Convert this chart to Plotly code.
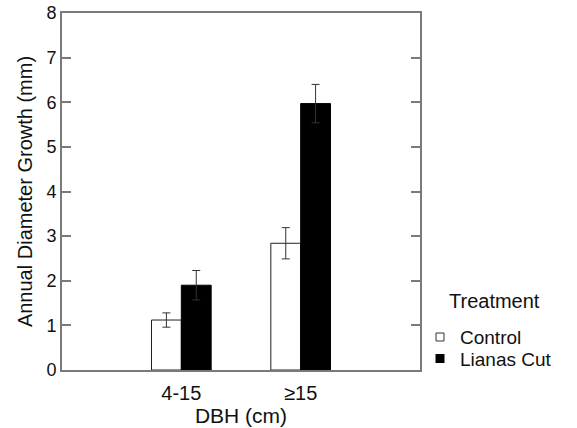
import plotly.graph_objects as go

categories = ["4-15", "≥15"]
control = [1.12, 2.84]
control_err = [0.16, 0.35]
lianas = [1.90, 5.97]
lianas_err = [0.33, 0.43]
series_names = ["Control", "Lianas Cut"]
yticks = [0, 1, 2, 3, 4, 5, 6, 7, 8]

FONT = "Liberation Sans, Arial, sans-serif"
GRAY = "#7a7a7a"

fig = go.Figure()
fig.add_trace(go.Bar(
    x=categories, y=control, name=series_names[0], showlegend=False,
    marker=dict(color="white", line=dict(color="#222222", width=1)),
    error_y=dict(type="data", array=control_err, color="#333333", thickness=1, width=4),
))
fig.add_trace(go.Bar(
    x=categories, y=lianas, name=series_names[1], showlegend=False,
    marker=dict(color="black", line=dict(color="black", width=1)),
    error_y=dict(type="data", array=lianas_err, color="#333333", thickness=1, width=4),
))
# legend proxies
fig.add_trace(go.Scatter(
    x=[None], y=[None], mode="markers", name=series_names[0], legend="legend",
    marker=dict(symbol="square", size=8, color="white", line=dict(color="#333333", width=1)),
))
fig.add_trace(go.Scatter(
    x=[None], y=[None], mode="markers", name=series_names[1], legend="legend2",
    marker=dict(symbol="square", size=9, color="black", line=dict(color="black", width=0)),
))

fig.update_layout(
    width=577, height=428,
    margin=dict(l=62, r=157, t=13, b=58),
    paper_bgcolor="white", plot_bgcolor="white",
    font=dict(family=FONT, color="#111111", size=18),
    barmode="group", bargap=0.5, bargroupgap=0,
    legend=dict(x=1.0, xanchor="left", y=0.092, yanchor="middle",
                font=dict(size=19), bgcolor="rgba(0,0,0,0)", borderwidth=0),
    legend2=dict(x=1.0, xanchor="left", y=0.032, yanchor="middle",
                 font=dict(size=19), bgcolor="rgba(0,0,0,0)", borderwidth=0),
    annotations=[dict(text="Treatment", xref="paper", yref="paper", x=1.075, y=0.193,
                      xanchor="left", yanchor="middle", showarrow=False,
                      font=dict(size=20, family=FONT, color="#111111"))],
)
fig.update_xaxes(
    type="category", range=[-1, 2], showgrid=False, zeroline=False,
    showline=True, linecolor=GRAY, linewidth=2, mirror=True, ticks="",
    tickfont=dict(size=20), ticklabelstandoff=4, automargin=False,
    title=dict(text="DBH (cm)", font=dict(size=21), standoff=0),
)
fig.update_yaxes(
    range=[0, 8], tickvals=yticks, showgrid=False, zeroline=False,
    showline=True, linecolor=GRAY, linewidth=2, mirror="ticks",
    ticks="inside", ticklen=9, tickwidth=1.5, tickcolor=GRAY,
    tickfont=dict(size=18), automargin=False,
    title=dict(text="Annual Diameter Growth (mm)", font=dict(size=20), standoff=8),
)

fig.write_html("out.html")
